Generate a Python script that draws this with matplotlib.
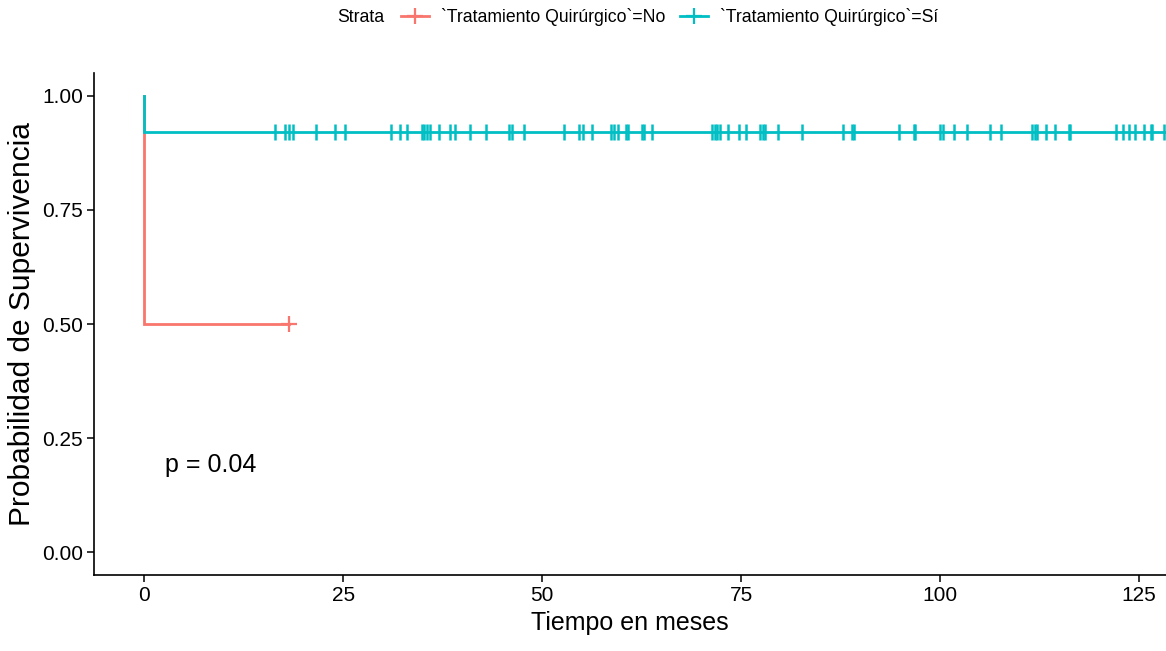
import matplotlib
matplotlib.use("Agg")
import matplotlib.pyplot as plt
from matplotlib.lines import Line2D
from matplotlib.offsetbox import HPacker

# Data
no_times = [0, 0, 18.2]
no_surv = [1.0, 0.5, 0.5]
no_censor = [18.2]
no_censor_surv = [0.5]

si_times = [0, 0, 131]
si_surv = [1.0, 0.92, 0.92]
si_censor = [16.5, 17.7, 18.2, 18.7, 21.6, 24.0, 25.2, 31.0, 32.1, 33.0, 34.9, 35.2,
             35.5, 35.9, 37.0, 38.4, 39.1, 41.0, 43.0, 45.9, 46.2, 47.7,
             52.7, 54.7, 55.2, 56.3, 58.6, 59.1, 59.6, 60.6, 60.8, 62.5, 62.8, 63.8,
             71.4, 71.7, 72.0, 72.4, 73.4, 74.8, 75.6, 77.4, 77.7, 78.0, 79.6, 82.7,
             87.8, 88.9, 89.2, 94.8, 96.7, 96.9, 100.0, 100.4, 101.7, 103.4, 106.3,
             107.7, 111.6, 111.9, 112.2, 113.3, 114.4, 116.2, 116.4, 122.1, 123.0,
             123.7, 124.5, 125.6, 126.5, 126.7, 128.1]
si_level = 0.92

xticks = [0, 25, 50, 75, 100, 125]
yticks = [0.00, 0.25, 0.50, 0.75, 1.00]
ytick_labels = ["0.00", "0.25", "0.50", "0.75", "1.00"]
legend_labels = ["`Tratamiento Quirúrgico`=No", "`Tratamiento Quirúrgico`=Sí"]

red = "#F8766D"
teal = "#00BFC4"

plt.rcParams['font.family'] = ['Liberation Sans', 'DejaVu Sans']

fig = plt.figure(figsize=(11.66, 6.51), dpi=100)
ax = fig.add_axes([94/1166, 1 - 575/651, 1 - 94/1166, (575 - 73)/651])

ax.plot(no_times, no_surv, color=red, lw=2, drawstyle='steps-post', solid_joinstyle='miter')
ax.plot(no_censor, no_censor_surv, linestyle='none', marker='+', color=red, ms=11, mew=1.6)
ax.plot(si_times, si_surv, color=teal, lw=2, drawstyle='steps-post', solid_joinstyle='miter')
ax.plot(si_censor, [si_level] * len(si_censor), linestyle='none', marker='|', color=teal, ms=11, mew=1.8)

ax.set_xlim(-6.3, 128.4)
ax.set_ylim(-0.05, 1.05)
ax.set_xticks(xticks)
ax.set_xticklabels([str(t) for t in xticks])
ax.set_yticks(yticks)
ax.set_yticklabels(ytick_labels)
ax.tick_params(axis='both', labelsize=15, length=5, width=1.1, color='black',
               labelcolor='black', pad=3)
for s in ['top', 'right']:
    ax.spines[s].set_visible(False)
for s in ['left', 'bottom']:
    ax.spines[s].set_linewidth(1.2)

ax.set_xlabel("Tiempo en meses", fontsize=18, labelpad=4)
ax.set_ylabel("Probabilidad de Supervivencia", fontsize=21.5, labelpad=4)

ax.text(2.6, 0.19, "p = 0.04", fontsize=18, ha='left', va='center')

handles = [Line2D([0], [0], color=red, lw=2, marker='+', ms=11, mew=1.6),
           Line2D([0], [0], color=teal, lw=2, marker='+', ms=11, mew=1.6)]
leg = fig.legend(handles, legend_labels, loc='center', bbox_to_anchor=(0.547, 1 - 17/651),
                 ncol=2, frameon=False, title="Strata", title_fontsize=12.7,
                 handlelength=1.6, columnspacing=0.8, handletextpad=0.7,
                 prop={'size': 12.7})
title_box = leg._legend_title_box
box = leg._legend_box
box._children = [HPacker(pad=0, sep=12, children=[title_box, box._children[1]], align="center")]

fig.savefig("out.png", dpi=100)
